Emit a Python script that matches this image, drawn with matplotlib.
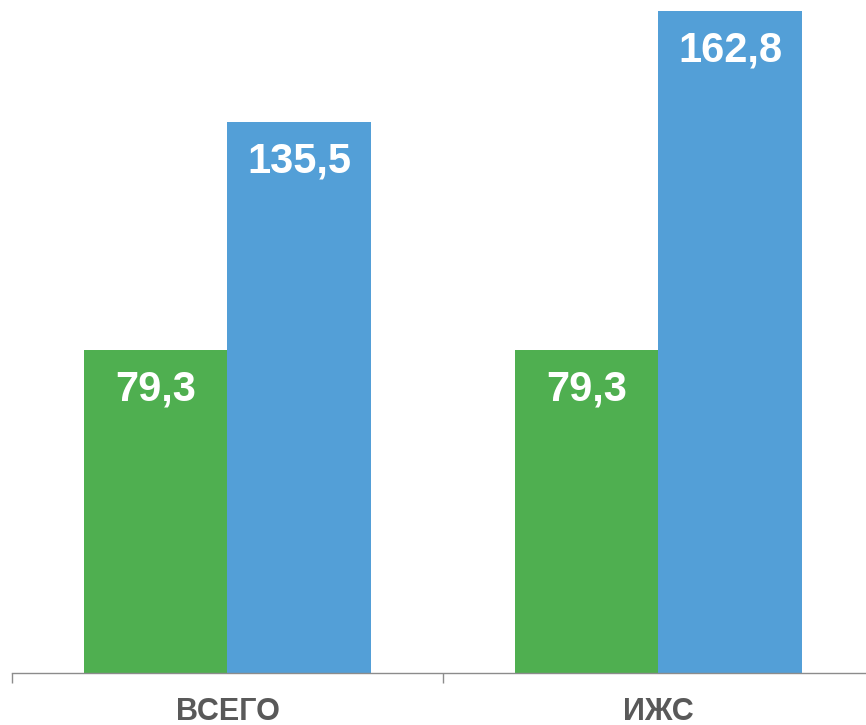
import matplotlib
matplotlib.use("Agg")
import matplotlib.pyplot as plt
import numpy as np

categories = ["ВСЕГО", "ИЖС"]
series1 = [79.3, 79.3]
series2 = [135.5, 162.8]
labels1 = ["79,3", "79,3"]
labels2 = ["135,5", "162,8"]

green = "#4FAF50"
blue = "#539FD7"

fig = plt.figure(figsize=(8.66, 7.25), dpi=100)
ax = fig.add_axes([12/866, 52/725, 862/866, 673/725])

x = np.arange(len(categories))
w = 0.334
b1 = ax.bar(x - w/2, series1, width=w, color=green)
b2 = ax.bar(x + w/2, series2, width=w, color=blue)

ax.set_xlim(-0.5, len(categories) - 0.5)
ax.set_ylim(0, 165.4)

for bars, labs in ((b1, labels1), (b2, labels2)):
    for r, t in zip(bars, labs):
        ax.annotate(t, (r.get_x() + r.get_width()/2, r.get_height()),
                    xytext=(0, -28.5), textcoords="offset points",
                    ha="center", va="center", color="white",
                    fontsize=30, fontweight="bold",
                    family=["Liberation Sans", "DejaVu Sans"])

for s in ("top", "right", "left"):
    ax.spines[s].set_visible(False)
ax.spines["bottom"].set_color("#8C8C8C")
ax.spines["bottom"].set_linewidth(1.0)
ax.set_yticks([])

ax.set_xticks(np.arange(-0.5, len(categories)), minor=False)
ax.set_xticklabels([])
ax.tick_params(axis="x", which="major", direction="out", length=7, color="#8C8C8C", width=1.0)
ax.set_xticks(x, minor=True)
ax.set_xticklabels(categories, minor=True)
ax.tick_params(axis="x", which="minor", length=0, pad=17, labelsize=22, labelcolor="#595959")
for t in ax.get_xticklabels(minor=True):
    t.set_fontweight("bold")
    t.set_family(["Liberation Sans", "DejaVu Sans"])

fig.savefig("out.png", dpi=100)
